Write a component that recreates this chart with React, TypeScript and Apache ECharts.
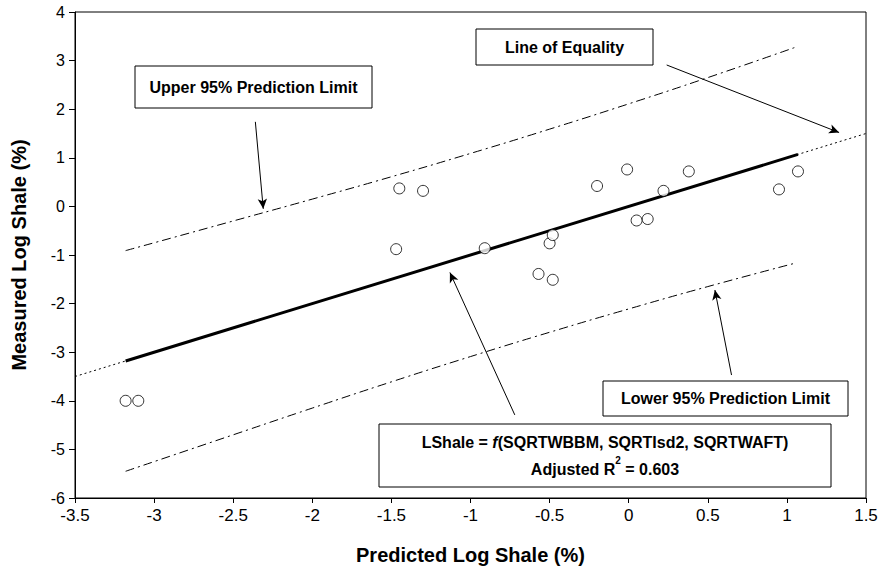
import React, { useEffect, useRef } from "react";
import * as echarts from "echarts";

const FONT = "'Liberation Sans', Arial, sans-serif";

// Observed points: [predicted, measured]
const pointsX = [-1.45, -1.30, -1.47, -0.91, -0.50, -0.48, -0.57, -0.48, -0.20, -0.01, 0.05, 0.12, 0.22, 0.38, 0.95, 1.07, -3.18, -3.10];
const pointsY = [0.37, 0.32, -0.88, -0.86, -0.76, -0.59, -1.39, -1.51, 0.42, 0.76, -0.29, -0.26, 0.32, 0.72, 0.35, 0.72, -4.0, -4.0];

// Line of equality (dotted) and fitted line (solid)
const equalityX = [-3.5, 1.5];
const fitX = [-3.18, 1.07];

// 95% prediction limits
const limitX = [-3.18, -2.5, -2.0, -1.5, -1.0, -0.5, 0.0, 0.5, 1.05];
const upperY = [-0.91, -0.30, 0.15, 0.61, 1.09, 1.59, 2.11, 2.65, 3.27];
const lowerY = [-5.45, -4.70, -4.15, -3.61, -3.09, -2.59, -2.11, -1.65, -1.17];

// Annotation arrows: [fromX, fromY, toX, toY] in data units
const arrowUpper = [-2.36, 1.74, -2.31, -0.05];
const arrowEquality = [0.24, 2.91, 1.33, 1.52];
const arrowFit = [-0.72, -4.29, -1.13, -1.36];
const arrowLower = [0.65, -3.47, 0.545, -1.72];

const xTicks = { min: -3.5, max: 1.5, interval: 0.5 };
const yTicks = { min: -6, max: 4, interval: 1 };

function box(x: number, y: number, w: number, h: number, text: string) {
  return {
    type: "group",
    children: [
      {
        type: "rect",
        shape: { x, y, width: w, height: h },
        style: { fill: "#fff", stroke: "#000", lineWidth: 1 },
      },
      {
        type: "text",
        x: x + w / 2,
        y: y + h / 2,
        style: {
          text,
          align: "center",
          verticalAlign: "middle",
          fontFamily: FONT,
          fontWeight: "bold",
          fontSize: 16,
          fill: "#000",
        },
      },
    ],
  };
}

export default function App() {
  const ref = useRef<HTMLDivElement>(null);
  useEffect(() => {
    if (!ref.current) return;
    const chart = echarts.init(ref.current, undefined, { renderer: "svg" });
    const pairs = (xs: number[], ys: number[]) => xs.map((x, i) => [x, ys[i]]);
    const arrow = (a: number[]) => [{ coord: [a[0], a[1]] }, { coord: [a[2], a[3]] }];
    chart.setOption({
      animation: false,
      backgroundColor: "#fff",
      grid: {
        left: 75,
        top: 12,
        right: 15,
        bottom: 73,
        show: true,
        borderColor: "#000",
        borderWidth: 1,
        backgroundColor: "transparent",
      },
      xAxis: {
        type: "value",
        min: xTicks.min,
        max: xTicks.max,
        interval: xTicks.interval,
        name: "Predicted Log Shale (%)",
        nameLocation: "middle",
        nameGap: 47,
        nameTextStyle: { fontFamily: FONT, fontWeight: "bold", fontSize: 20, color: "#000" },
        axisLine: { onZero: false, lineStyle: { color: "#000", width: 1 } },
        axisTick: { show: true, length: 5, lineStyle: { color: "#000" } },
        axisLabel: { fontFamily: FONT, fontSize: 17, color: "#000", margin: 9 },
        splitLine: { show: false },
      },
      yAxis: {
        type: "value",
        min: yTicks.min,
        max: yTicks.max,
        interval: yTicks.interval,
        name: "Measured Log Shale (%)",
        nameLocation: "middle",
        nameGap: 46,
        nameRotate: 90,
        nameTextStyle: { fontFamily: FONT, fontWeight: "bold", fontSize: 20, color: "#000" },
        axisLine: { onZero: false, lineStyle: { color: "#000", width: 1 } },
        axisTick: { show: true, length: 6, lineStyle: { color: "#000" } },
        axisLabel: { fontFamily: FONT, fontSize: 16, color: "#000", margin: 10 },
        splitLine: { show: false },
      },
      series: [
        {
          type: "line",
          name: "Line of Equality",
          data: pairs(equalityX, equalityX),
          showSymbol: false,
          symbol: "none",
          lineStyle: { color: "#000", width: 1, type: [2, 3] },
          z: 2,
        },
        {
          type: "line",
          name: "Upper 95% Prediction Limit",
          data: pairs(limitX, upperY),
          smooth: true,
          symbol: "none",
          lineStyle: { color: "#000", width: 1, type: [9, 4, 2, 4] },
          z: 2,
        },
        {
          type: "line",
          name: "Lower 95% Prediction Limit",
          data: pairs(limitX, lowerY),
          smooth: true,
          symbol: "none",
          lineStyle: { color: "#000", width: 1, type: [9, 4, 2, 4] },
          z: 2,
        },
        {
          type: "line",
          name: "Fitted",
          data: pairs(fitX, fitX),
          symbol: "none",
          lineStyle: { color: "#000", width: 3, type: "solid" },
          z: 3,
        },
        {
          type: "scatter",
          name: "Observed",
          data: pairs(pointsX, pointsY),
          symbol: "circle",
          symbolSize: 11,
          itemStyle: { color: "#fff", borderColor: "#000", borderWidth: 1 },
          z: 5,
          markLine: {
            silent: true,
            symbol: ["none", "arrow"],
            symbolSize: [7, 10],
            label: { show: false },
            lineStyle: { color: "#000", width: 1, type: "solid" },
            data: [arrow(arrowUpper), arrow(arrowEquality), arrow(arrowFit), arrow(arrowLower)],
          },
        },
      ],
      graphic: [
        box(135, 66, 237, 42, "Upper 95% Prediction Limit"),
        box(476, 29, 177, 36, "Line of Equality"),
        box(603, 381, 245, 35, "Lower 95% Prediction Limit"),
        {
          type: "group",
          children: [
            {
              type: "rect",
              shape: { x: 379, y: 424, width: 452, height: 63 },
              style: { fill: "#fff", stroke: "#000", lineWidth: 1 },
            },
            {
              type: "text",
              x: 605,
              y: 455.5,
              style: {
                text:
                  "{b|LShale = }{i|f}{b|(SQRTWBBM, SQRTIsd2, SQRTWAFT)}\n{b|Adjusted R}{sup|2}{b| = 0.603}",
                align: "center",
                verticalAlign: "middle",
                fill: "#000",
                rich: {
                  b: { fontFamily: FONT, fontWeight: "bold", fontSize: 16, lineHeight: 27, fill: "#000" },
                  i: { fontFamily: FONT, fontWeight: "bold", fontStyle: "italic", fontSize: 16, lineHeight: 27, fill: "#000" },
                  sup: { fontFamily: FONT, fontWeight: "bold", fontSize: 10, lineHeight: 27, verticalAlign: "top", padding: [0, 0, 10, 0], fill: "#000" },
                },
              },
            },
          ],
        },
      ],
    });
    return () => chart.dispose();
  }, []);
  return (
    <div
      ref={ref}
      style={{ position: "absolute", left: 0, top: 0, width: 881, height: 571, background: "#fff" }}
    />
  );
}
